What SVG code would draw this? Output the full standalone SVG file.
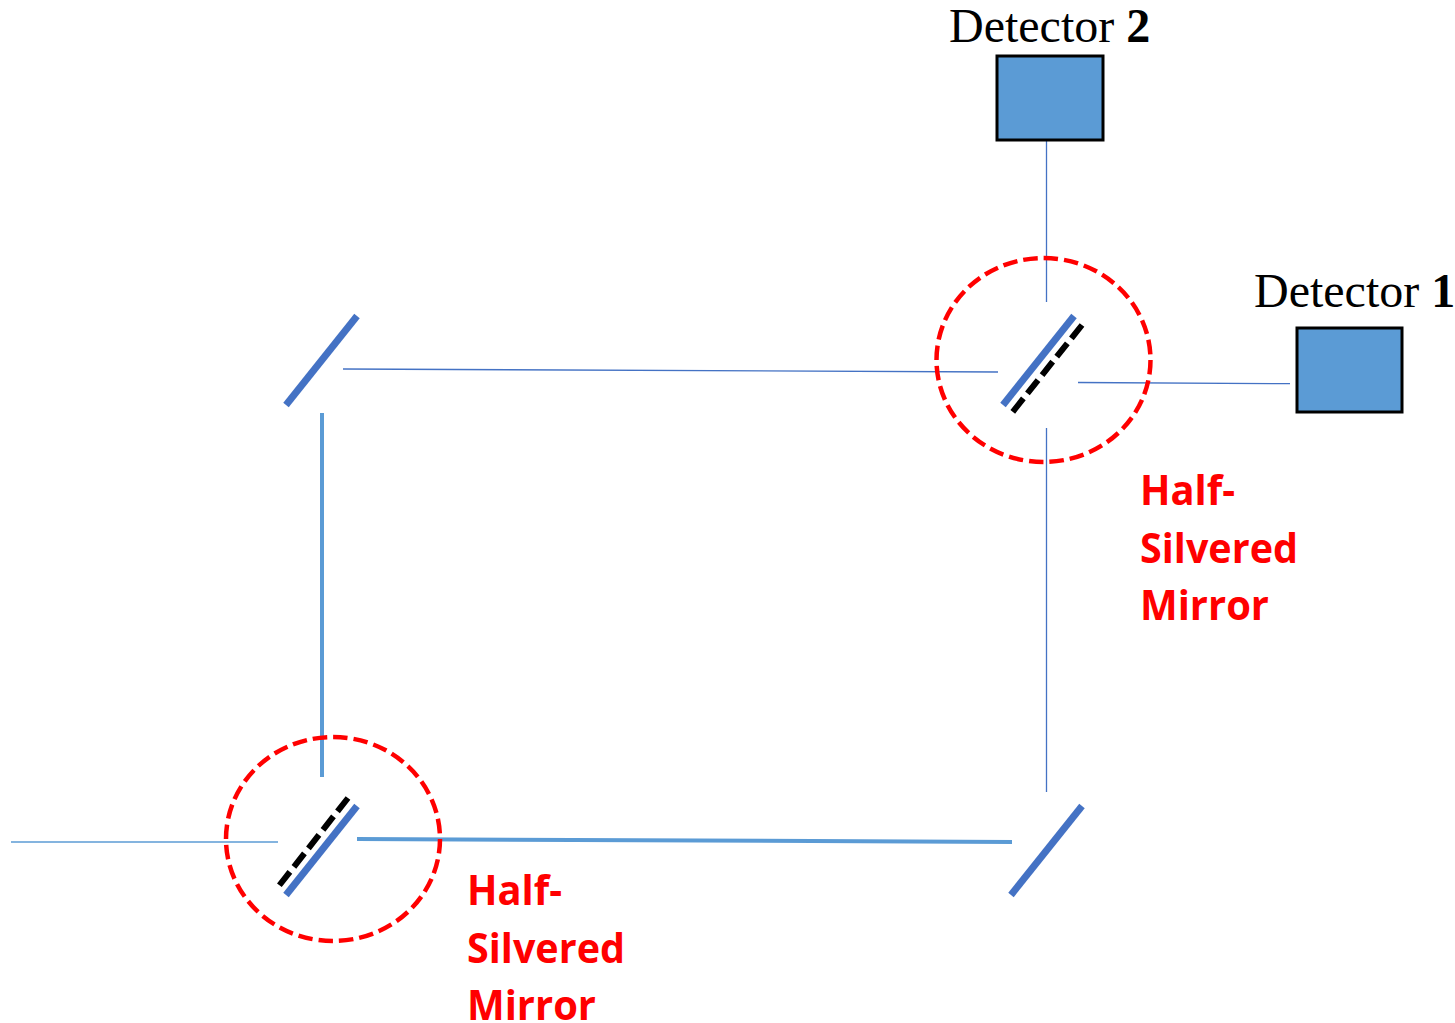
<svg xmlns="http://www.w3.org/2000/svg" width="1455" height="1023" viewBox="0 0 1455 1023">
<style>
.det{fill:#5b9bd5;stroke:#000;stroke-width:3}
.mirror{stroke:#4472c4;stroke-width:7;fill:none}
.dash{stroke:#000;stroke-width:6;stroke-dasharray:17 6.500;fill:none}
.ring{fill:none;stroke:#f00;stroke-width:4.500;stroke-dasharray:14.500 6}
.thin{stroke:#4472c4;stroke-width:1.300;fill:none}
.pale{stroke:#5b9bd5;stroke-width:1.300;fill:none}
.thick{stroke:#5b9bd5;stroke-width:4;fill:none}
.dt{font-family:"Liberation Serif",serif;font-size:48px;fill:#000}
.lb{font-family:"Open Sans","Noto Sans",sans-serif;font-weight:700;font-size:42px;fill:#f00}
</style>
<rect width="1455" height="1023" fill="#fff"/>
<g id="connectors">
<line class="thin" x1="1046.500" y1="140" x2="1046.500" y2="302"/>
<line class="thin" x1="343" y1="369" x2="998" y2="372"/>
<line class="thin" x1="1078" y1="382.500" x2="1290" y2="383.700"/>
<line class="thin" x1="1046.500" y1="428" x2="1046.500" y2="792"/>
<line class="thick" x1="322" y1="413" x2="322" y2="777"/>
<line class="pale" x1="11" y1="842" x2="278" y2="842"/>
<line class="thick" x1="357" y1="839" x2="1012" y2="842"/>
</g>
<g id="detector-2"><rect class="det" x="997" y="56" width="106" height="84"/><text class="dt" x="949" y="42">Detector <tspan font-weight="700">2</tspan></text></g>
<g id="detector-1"><rect class="det" x="1297" y="328" width="105" height="84"/><text class="dt" x="1254" y="307">Detector <tspan font-weight="700">1</tspan></text></g>
<g id="mirror-top-left"><line class="mirror" x1="357" y1="316" x2="286" y2="405"/></g>
<g id="mirror-bottom-right"><line class="mirror" x1="1082" y1="806" x2="1011" y2="895"/></g>
<g id="splitter-top"><line class="mirror" x1="1074" y1="316" x2="1003" y2="405"/><line class="dash" x1="1082" y1="325" x2="1011" y2="414"/><ellipse class="ring" cx="1043.500" cy="360" rx="107" ry="102"/></g>
<g id="splitter-bottom"><line class="mirror" x1="357" y1="806" x2="286" y2="895"/><line class="dash" x1="348" y1="798" x2="278" y2="887"/><ellipse class="ring" cx="333" cy="839" rx="107" ry="102"/></g>
<g id="label-top"><text class="lb" x="1140" y="505" textLength="95" lengthAdjust="spacingAndGlyphs">Half-</text><text class="lb" x="1140" y="563" textLength="158" lengthAdjust="spacingAndGlyphs">Silvered</text><text class="lb" x="1140" y="620" textLength="129" lengthAdjust="spacingAndGlyphs">Mirror</text></g>
<g id="label-bottom"><text class="lb" x="467" y="905" textLength="95" lengthAdjust="spacingAndGlyphs">Half-</text><text class="lb" x="467" y="963" textLength="158" lengthAdjust="spacingAndGlyphs">Silvered</text><text class="lb" x="467" y="1020" textLength="129" lengthAdjust="spacingAndGlyphs">Mirror</text></g>
</svg>
